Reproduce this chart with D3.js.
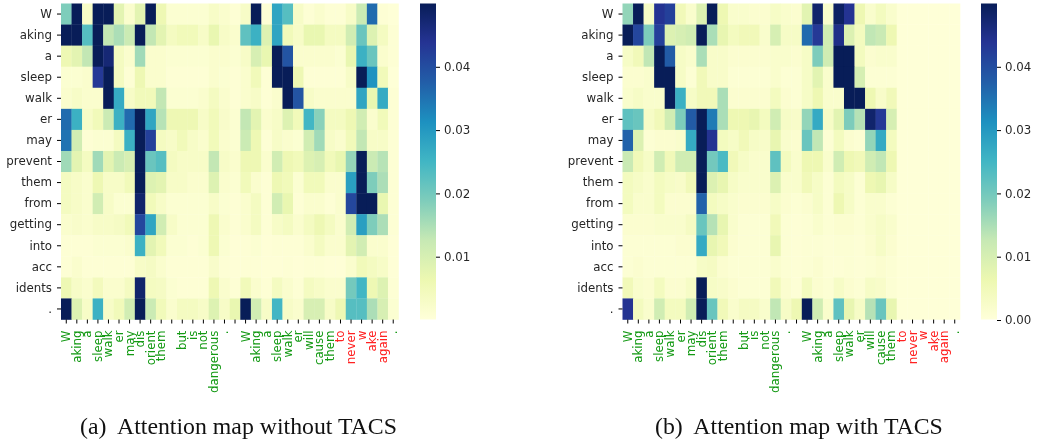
<!DOCTYPE HTML>
<html lang="en">
<head>
<meta charset="utf-8">
<title>Attention maps</title>
<script src="https://d3js.org/d3.v7.min.js"></script>
<style>
	html, body{ margin: 0; padding: 0; background: white; }
	svg{ display: block; filter: blur(0.35px); }
	.tick text{ font-family: "DejaVu Sans", sans-serif; font-size: 11.8px; }
	.caption{ font-family: "Liberation Serif", serif; font-size: 23.8px; fill: #111; white-space: pre; }
</style>
</head>
<body>
<script>
	// target tokens (rows) and source tokens (columns), blanks are unlabelled ticks
	var rowLabels = ["W","aking","a","sleep","walk","er","may","prevent","them","from","getting","into","acc","idents","."];
	var colLabels = ["W","aking","a","sleep","walk","er","may","dis","orient","them","","but","is","not","dangerous",".","",
		"W","aking","a","sleep","walk","er","will","cause","them","to","never","w","ake","again","."];
	var redFrom = 26;
	var redTo = 30;

	// attention weights, in thousandths
	var withoutTacs = [
		[19,50,3,50,50,8,2,8,50,6,1.5,1.5,1.5,1.5,3,2,1,3,50,1,28,23,3,1,2,1,1,3,12,36,1,0.5],
		[50,50,23,50,13,15,12,50,13,8,4,5,5,3,7,3,2,22,26,9,28,5,3,7,7,4,4,11,21,9,4,1],
		[6,8,13,50,47,4,2,16,2,2,1.5,1.5,1.5,1.5,2,2,1.5,3,10,7,50,39,2,2,2,2,1.5,7,26,21,2,1],
		[1.5,1.5,2,43,50,4,1,6,2,2,1,1,1,1,2,1.5,1,2,5,1,50,50,6,1,1,1,1,3,50,31,5,0.5],
		[2,3,2,2,50,27,3,5,5,13,1.5,1.5,1.5,2,4,2,1,2,3,1,2,50,39,3,2,2,2,2,28,7,27,1],
		[36,26,3,5,12,26,36,50,28,14,6,6,6,3,5,2.5,1.5,13,8,2,3,9,5,25,18,4,4,6,11,2,5,1],
		[35,11,1,1.5,1.5,4,26,50,42,4,3,5,3,2,5,2,1.5,12,6,1,3,2,1.5,11,16,3,2,5,13,3,3,1],
		[16,8,4,16,8,12,10,50,21,23,4,3,3,3,13,3,2,6,6,2,11,6,5,9,10,5,7,17,50,12,14,1],
		[4,3,2,6,3,3,5,50,9,8,3,3,2,2,9,2,1.5,5,2,1,6,5,1.5,5,5,2,2,29,50,19,15,1],
		[4,3,2,11,3,1.5,1.5,48,5,3,1.5,1.5,1.5,1.5,3,1.5,1,2,4,1,11,7,1,2,2,1,2,41,50,50,7,1],
		[2,2.5,2,3,3,3.5,5,41,28,11,3,1.5,1.5,1.5,6,2,1,2,4,1,3,4,2,4,6,4,2,11,29,19,15,1],
		[1,1,1,1.5,1.5,1.5,2,26,8,5,1.5,1.5,1,1.5,6,1.5,0.7,1,1.5,0.7,1,1,1,2,4,2,2,8,11,2,2,0.7],
		[1,2,1,1,1,1,1,3,3.5,2,1,1,1,1,2.5,1,0.7,1,1,0.7,0.7,1,0.7,1,1,0.7,0.7,2,5,4,3,0.7],
		[6,3,2,4.5,2,2,4,48,4,3.5,1.5,1,1,1,6,2,1,5,2,1,4,2,1,4,3,2,2,20,25,6,9,1],
		[50,9,3,26,3,5,11,50,12,5,2,4,4,3,9,3,7,50,11,3,25,3,2,10,10,3,6,23,23,15,10,1.5]
	];
	var withTacs = [
		[17,50,3,44,42,5,2,9,50,6,2,2,1.5,1.5,3,2,1.5,8,48,2,49,44,6,2,4,2,0.3,0.3,0.3,0.3,0.3,0.3],
		[50,41,19,42,9,10,11,50,15,7,4,5,5,2,10,3,3,36,43,11,45,9,4,13,12,6,0.3,0.3,0.3,0.3,0.3,0.3],
		[3,5,13,50,38,3,2,15,2.5,2.5,1.5,1.5,1.5,1.5,2,2,1.5,3,19,11,50,50,4,1.5,2,2,0.3,0.3,0.3,0.3,0.3,0.3],
		[1.5,1.5,2,50,50,3,1,5,2.5,2.5,1,1,1,1,2,1,1,3,8,2,50,50,10,1,1,1,0.3,0.3,0.3,0.3,0.3,0.3],
		[2,3,2,2,50,26,3,5,5,15,1.5,1.5,1.5,1.5,4,1.5,1,3,6,2,2,50,50,6,2.5,5,0.3,0.3,0.3,0.3,0.3,0.3],
		[22,21,3,5,11,19,38,50,34,15,6,6,7,4,11,3,2.5,17,27,3,8,19,14,48,43,10,0.3,0.3,0.3,0.3,0.3,0.3],
		[37,9,1,1.5,1.5,2,27,50,44,4,3,5,3,2.5,7,2,1.5,21,13,1,4,1.5,1,17,27,4,0.3,0.3,0.3,0.3,0.3,0.3],
		[12,5,3,11,5,11,11,50,20,24,5,3,2,2,22,4,2,6,6,2,11,6,5,11,13,6,0.3,0.3,0.3,0.3,0.3,0.3],
		[4,3,2,4,3,2.5,5,50,9,7,3,2,2,2,9,2,2,5,3,1,4,3,1,6,7,3,0.3,0.3,0.3,0.3,0.3,0.3],
		[4,2,2,4,1.5,1.5,1.5,37,4,3,2,1.5,1.5,1.5,3,1.5,1,1.5,3,1,6,3,1,2,2,1,0.3,0.3,0.3,0.3,0.3,0.3],
		[1.5,1.5,1.5,2,2,2,3.5,21,14,7,2,1,1,1,5,1,0.7,1,2,1,1.5,1.5,1,2,3,2,0.3,0.3,0.3,0.3,0.3,0.3],
		[1,1,1,1,1,1.5,1.5,27,7,5,1.5,1,1,1,7,1,0.7,1,1,0.7,1,1,0.7,1.5,3,1.5,0.3,0.3,0.3,0.3,0.3,0.3],
		[1,1.5,1,1,1,1,1,3,3.5,1.5,1,1,1,1,2,1,0.7,1,1.5,0.7,0.7,1,0.7,1,1.5,1,0.3,0.3,0.3,0.3,0.3,0.3],
		[5,2,1.5,4,1.5,1.5,3,50,3,2.5,1.5,1,1,1,5,1.5,0.7,4,1.5,1,3,1.5,1,3,2.5,1,0.3,0.3,0.3,0.3,0.3,0.3],
		[44,4,2,11,4,4,11,50,21,5,2,3.5,3.5,2,13,3,6,50,11,2,22,7,3,14,21,7,0.3,0.3,0.3,0.3,0.3,0.3]
	];

	var barTicks = [0, 10, 20, 30, 40];
	var palette = ["#ffffd9","#edf8b1","#c7e9b4","#7fcdbb","#41b6c4","#1d91c0","#225ea8","#253494","#081d58"];

	var svg = d3.select("body").append("svg")
		.attr("width", 1037)
		.attr("height", 443);

	var defs = svg.append("defs");

	/**Draws one heatmap, its colorbar and its caption*/

	function drawMap(id, data, left, barLeft, vmin, barTickValues, caption, captionX){
		var right = left + 337.5;
		var top = 3.5;
		var bottom = 319.5;

		var x = d3.scaleBand().domain(d3.range(colLabels.length)).range([left, right]);
		var y = d3.scaleBand().domain(d3.range(rowLabels.length)).range([top, bottom]);
		var color = d3.scaleLinear()
			.domain(palette.map(function(d, i){ return vmin + (50 - vmin) * i / (palette.length - 1); }))
			.range(palette)
			.clamp(true);

		var rows = svg.append("g").selectAll("g")
			.data(data)
			.enter()
			.append("g");

		rows.each(function(row, r){
			d3.select(this).selectAll("rect")
				.data(row)
				.enter()
				.append("rect")
				.attr("x", function(d, c){ return x(c); })
				.attr("y", y(r))
				.attr("width", x.bandwidth() + 0.3)
				.attr("height", y.bandwidth() + 0.3)
				.attr("fill", function(d){ return color(d); });
		});

		// axes
		var yAxis = svg.append("g")
			.attr("transform", "translate(" + left + ",0)")
			.call(d3.axisLeft(y).tickSize(4).tickPadding(5).tickFormat(function(i){ return rowLabels[i]; }));
		yAxis.select(".domain").remove();
		yAxis.selectAll("text").attr("fill", "#262626");

		var xAxis = svg.append("g")
			.attr("transform", "translate(0," + bottom + ")")
			.call(d3.axisBottom(x).tickSize(4).tickFormat(function(i){ return colLabels[i]; }));
		xAxis.select(".domain").remove();
		xAxis.selectAll("text")
			.attr("text-anchor", "end")
			.attr("dy", null)
			.attr("dominant-baseline", "auto")
			.attr("transform", "translate(4,11) rotate(-90)")
			.attr("x", 0)
			.attr("y", 0)
			.attr("fill", function(i){ return i >= redFrom && i <= redTo ? "#ff2222" : "#159a15"; });

		// colorbar
		var barScale = d3.scaleLinear().domain([0, 50]).range([320, 3.5]);
		var grad = defs.append("linearGradient")
			.attr("id", id)
			.attr("x1", 0).attr("x2", 0).attr("y1", 1).attr("y2", 0);
		palette.forEach(function(c, i){
			grad.append("stop")
				.attr("offset", (i / (palette.length - 1) * 100) + "%")
				.attr("stop-color", c);
		});
		svg.append("rect")
			.attr("x", barLeft)
			.attr("y", top)
			.attr("width", 16)
			.attr("height", 316)
			.attr("fill", "url(#" + id + ")");

		var barAxis = svg.append("g")
			.attr("transform", "translate(" + (barLeft + 16) + ",0)")
			.call(d3.axisRight(barScale).tickValues(barTickValues).tickSize(4).tickPadding(4)
				.tickFormat(function(d){ return (d / 1000).toFixed(2); }));
		barAxis.select(".domain").remove();
		barAxis.selectAll("text").attr("fill", "#262626");

		svg.append("text")
			.attr("class", "caption")
			.attr("x", captionX)
			.attr("y", 434)
			.text(caption);
	}

	drawMap("barA", withoutTacs, 61, 420, 0.2, barTicks.slice(1), "(a)  Attention map without TACS", 80);
	drawMap("barB", withTacs, 622.5, 981, 0, barTicks, "(b)  Attention map with TACS", 655);
</script>
</body>
</html>
